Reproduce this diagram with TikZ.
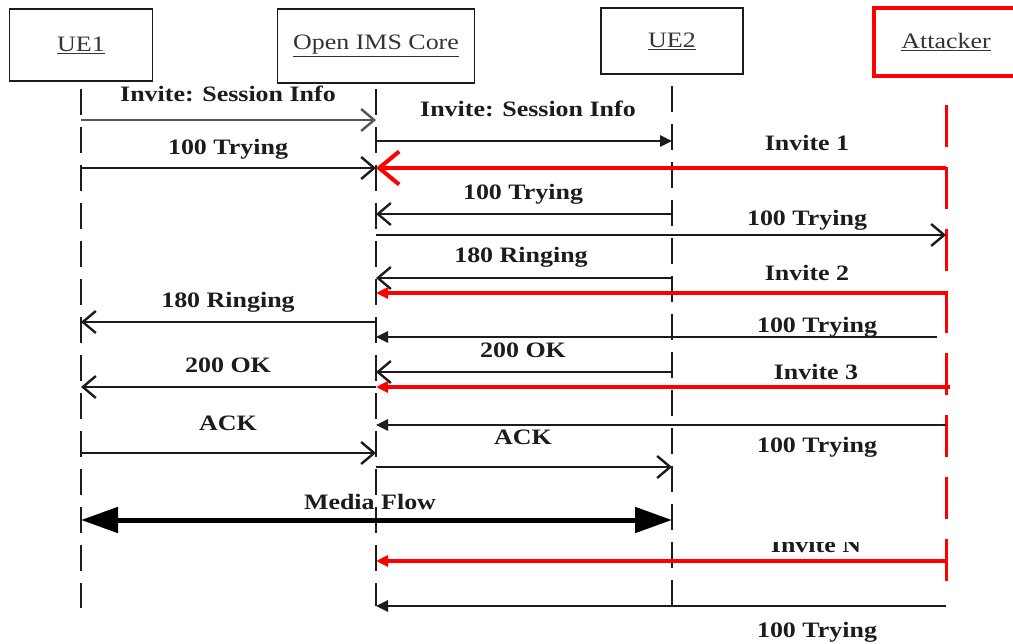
\documentclass[tikz,border=0pt]{standalone}
\usepackage{fontspec}
\setmainfont{Liberation Serif}[FakeStretch=1.18]
\usetikzlibrary{arrows.meta,calc}
\definecolor{ink}{HTML}{1C1C1C}
\definecolor{soft}{HTML}{555555}
\definecolor{alert}{HTML}{FF0000}
\begin{document}
\begin{tikzpicture}[x=1pt,y=-1pt,
  box/.style={draw=ink, line width=1.8pt, inner sep=0pt, text=ink!90,
    font=\fontsize{22}{24}\selectfont},
  attbox/.style={box, draw=alert, line width=4pt},
  life/.style={draw=ink, line width=2.6pt, dash pattern=on 26pt off 12pt},
  attlife/.style={draw=alert, line width=3pt, dash pattern=on 42pt off 20pt},
  msg/.style={draw=ink, line width=2.5pt},
  thinmsg/.style={draw=soft, line width=1.6pt},
  redmsg/.style={draw=alert, line width=4pt},
  media/.style={draw=black, line width=5pt, {Triangle[length=37pt,width=25pt]}-{Triangle[length=37pt,width=25pt]}},
  barb/.style={-{Straight Barb[length=13pt,width=22pt,line width=2.4pt]}},
  bigbarb/.style={-{Straight Barb[length=20pt,width=33pt,line width=4pt]}},
  dart/.style={-{Triangle[length=12pt,width=11pt]}},
  lbl/.style={font=\fontsize{22}{24}\selectfont\bfseries, text=ink, anchor=base, inner sep=0pt},
]
\useasboundingbox (0,0) rectangle (1013,644);
\clip (0,0) rectangle (1013,644);

% participants
\node[box, minimum width=143, minimum height=72] (ue1) at (81,45) {\underline{UE1}};
\node[box, minimum width=197, minimum height=74] (ims) at (376,46) {\underline{Open IMS Core}};
\node[box, minimum width=142, minimum height=66] (ue2) at (672,41) {\underline{UE2}};
\node[attbox, minimum width=144, minimum height=68] (att) at (946,42) {\underline{Attacker}};

% lifelines
\coordinate (ue1end) at (81,608);
\coordinate (imsend) at (376,606);
\coordinate (ue2end) at (672,608);
\coordinate (attend) at (946,590);
\draw[life] ($(ue1.south)+(0,7)$) -- (ue1end);
\draw[life] ($(ims.south)+(0,5)$) -- (imsend);
\draw[life] ($(ue2.south)+(0,11)$) -- (ue2end);
\draw[attlife] ($(att.south)+(0,27)$) -- (attend);

% session set-up
\node[lbl] (t1) at (228,102) {Invite: Session Info};
\draw[thinmsg, barb] (ue1 |- 0,120) -- (ims |- 0,120);
\node[lbl] (t2) at (528,117) {Invite: Session Info};
\draw[msg, dart] (ims |- 0,141) -- (ue2 |- 0,141);
\node[lbl] (t3) at (228,155) {100 Trying};
\draw[msg, barb] (ue1 |- 0,168) -- (ims |- 0,168);
\node[lbl] (t5) at (523,200) {100 Trying};
\draw[msg, barb] (ue2 |- 0,214) -- (ims |- 0,214);
\node[lbl] (t6) at (807,226) {100 Trying};
\draw[msg, barb] (ims |- 0,235) -- (att |- 0,235);
\node[lbl] (t7) at (521,263) {180 Ringing};
\draw[msg, barb] (ue2 |- 0,278) -- (ims |- 0,278);
\node[lbl] (t9) at (228,308) {180 Ringing};
\draw[msg, barb] (ims |- 0,322) -- (ue1 |- 0,322);
\node[lbl] (t11) at (523,358) {200 OK};
\draw[msg, barb] (ue2 |- 0,372) -- (ims |- 0,372);
\node[lbl] (t12) at (228,373) {200 OK};
\draw[msg, barb] (ims |- 0,387) -- (ue1 |- 0,387);
\node[lbl] (t14) at (228,431) {ACK};
\draw[msg, barb] (ue1 |- 0,453) -- (ims |- 0,453);
\node[lbl] (t15) at (523,445) {ACK};
\draw[msg, barb] (ims |- 0,467) -- (ue2 |- 0,467);
\node[lbl] (t16) at (370,509) {Media Flow};
\draw[media] (ue1 |- 0,520) -- (ue2 |- 0,520);

% flooding by the attacker
\node[lbl] (t4) at (807,151) {Invite 1};
\draw[redmsg, bigbarb] (att |- 0,168) -- (ims |- 0,168);
\node[lbl] (t8) at (807,281) {Invite 2};
\draw[redmsg, dart] (att |- 0,293) -- (ims |- 0,293);
\node[lbl] (t10) at (817,333) {100 Trying};
\draw[msg, dart] ($(att |- 0,337)+(-9,0)$) -- (ims |- 0,337);
\node[lbl] (t13) at (816,380) {Invite 3};
\draw[redmsg, dart] ($(att |- 0,387)+(4,0)$) -- (ims |- 0,387);
\node[lbl] (t17) at (817,453) {100 Trying};
\draw[msg, dart] (att |- 0,425) -- (ims |- 0,425);
\begin{scope}
  \clip (700,542) rectangle (950,556);
  \node[lbl] (t18) at (816,552) {Invite N};
\end{scope}
\draw[redmsg, dart] (att |- 0,561) -- (ims |- 0,561);
\draw[msg, dart] (att |- 0,606) -- (ims |- 0,606);
\node[lbl] (t19) at (817,637) {100 Trying};
\end{tikzpicture}
\end{document}
